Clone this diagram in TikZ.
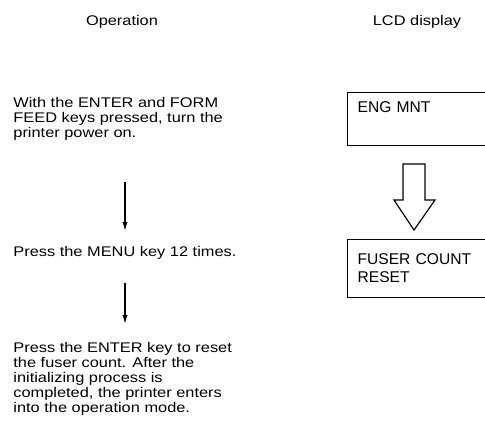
\documentclass[tikz,border=0pt]{standalone}
\usepackage{fontspec}
\setmainfont{Liberation Sans}
\newfontfamily\opfont[FakeStretch=1.17]{Liberation Sans}
\newfontfamily\lcdfont{Liberation Sans}
\usetikzlibrary{arrows.meta}
\tikzset{
  optext/.style={font=\opfont\fontsize{7}{7.5}\selectfont, align=left, inner sep=0pt, anchor=north west},
  headtext/.style={font=\opfont\fontsize{7}{7.5}\selectfont, inner sep=0pt, anchor=base},
  lcdbox/.style={draw, line width=0.6pt, font=\lcdfont\fontsize{7.8}{9}\selectfont, align=left,
    text width=65pt, inner xsep=5pt, inner ysep=0pt, anchor=north west},
  flowarrow/.style={line width=0.6pt, -{Latex[length=4.5pt,width=2.6pt]}},
  hollowarrow/.style={draw, line width=0.6pt, fill=white, line join=miter}
}
\begin{document}
\begin{tikzpicture}[x=0.5pt, y=-0.5pt]
\useasboundingbox (0,0) rectangle (485,440);
\clip (0,0) rectangle (485,440);
\fill[white] (0,0) rectangle (485,440);
% headers
\node[headtext] (hop) at (122,25) {Operation};
\node[headtext] (hlcd) at (417,25) {LCD display};
% operation steps
\node[optext] (t1) at (13,97) {With the ENTER and FORM\\FEED keys pressed, turn the\\printer power on.};
\node[optext] (t2) at (13,246) {Press the MENU key 12 times.};
\node[optext] (t3) at (13,342) {Press the ENTER key to reset\\the fuser count. After the\\initializing process is\\completed, the printer enters\\into the operation mode.};
\coordinate (a1s) at (125,182);
\coordinate (a1e) at (125,231);
\coordinate (a2s) at (125,283);
\coordinate (a2e) at (125,324);
\draw[flowarrow] (a1s) -- (a1e);
\draw[flowarrow] (a2s) -- (a2e);
% LCD displays
\node[lcdbox, minimum height=26.5pt] (lcd1) at (347,92) {ENG MNT\\\strut};
\node[lcdbox, minimum height=29pt] (lcd2) at (347,239) {FUSER COUNT\\RESET};
% hollow arrow
\draw[hollowarrow] (403,164) -- (425,164) -- (425,200) -- (435,200) -- (414,230)
  -- (394,200) -- (403,200) -- cycle;
\end{tikzpicture}
\end{document}
